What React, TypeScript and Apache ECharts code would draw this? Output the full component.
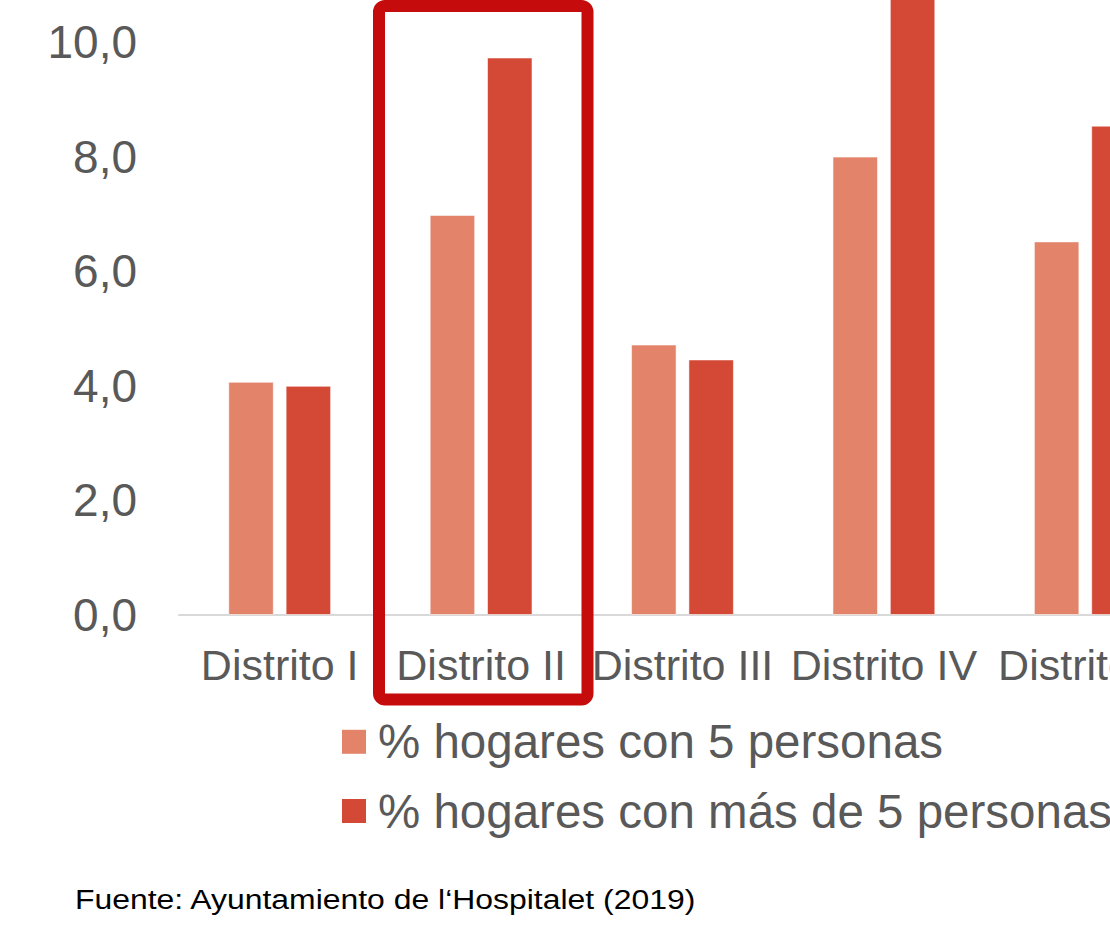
import React, { useEffect, useRef } from "react";
import * as echarts from "echarts";

const categories = ["Distrito I", "Distrito II", "Distrito III", "Distrito IV", "Distrito V"];
const seriesNames = ["% hogares con 5 personas", "% hogares con más de 5 personas"];
const hogares5 = [4.07, 6.98, 4.72, 8.0, 6.52];
const hogaresMas5 = [4.0, 9.73, 4.46, 11.3, 8.54];
const footer = "Fuente: Ayuntamiento de l\u2018Hospitalet (2019)";

const FONT = "'Liberation Sans', Arial, sans-serif";
const TEXT = "#595959";

export default function App() {
  const ref = useRef<HTMLDivElement>(null);
  useEffect(() => {
    if (!ref.current) return;
    const chart = echarts.init(ref.current, undefined, { renderer: "svg" });
    chart.setOption({
      animation: false,
      backgroundColor: "#ffffff",
      textStyle: { fontFamily: FONT },
      grid: { left: 179, right: 64, top: 27.4, bottom: 322, containLabel: false },
      xAxis: {
        type: "category",
        data: categories,
        axisLine: { lineStyle: { color: "#d9d9d9", width: 2 } },
        axisTick: { show: false },
        axisLabel: { color: TEXT, fontSize: 43, fontFamily: FONT, margin: 28, interval: 0 },
      },
      yAxis: {
        type: "value",
        min: 0,
        max: 12,
        interval: 2,
        splitLine: { show: false },
        axisLine: { show: false },
        axisTick: { show: false },
        axisLabel: {
          color: TEXT,
          fontSize: 46,
          fontFamily: FONT,
          margin: 42,
          formatter: (v: number) => v.toFixed(1).replace(".", ","),
        },
      },
      legend: {
        orient: "vertical",
        left: 342,
        top: 817.8,
        padding: 0,
        itemWidth: 24,
        itemHeight: 24,
        itemGap: 21.2,
        icon: "rect",
        itemStyle: { borderWidth: 0 },
        textStyle: { color: TEXT, fontSize: 47.5, fontFamily: FONT, lineHeight: 47.5, padding: [0, 0, 0, 7] },
        data: seriesNames,
      },
      series: [
        {
          name: seriesNames[0],
          type: "bar",
          data: hogares5,
          barWidth: 45.5,
          barGap: "26%",
          itemStyle: { color: "#E2836A", borderColor: "rgba(255,255,255,0.55)", borderWidth: 1 },
        },
        {
          name: seriesNames[1],
          type: "bar",
          data: hogaresMas5,
          barWidth: 45.5,
          barGap: "26%",
          itemStyle: { color: "#D34935", borderColor: "rgba(255,255,255,0.55)", borderWidth: 1 },
        },
      ],
      graphic: [
        {
          type: "rect",
          shape: { x: 379, y: 106, width: 208.5, height: 693.5, r: 6 },
          style: { fill: "none", stroke: "#C50B0B", lineWidth: 12 },
          z: 100,
        },
        {
          type: "text",
          x: 75,
          y: 999,
          scaleX: 1.14,
          style: {
            text: footer,
            fill: "#000000",
            fontSize: 28,
            fontFamily: FONT,
            verticalAlign: "middle",
            align: "left",
          },
        },
      ],
    });
    return () => chart.dispose();
  }, []);
  return (
    <div style={{ position: "fixed", left: 0, top: 0, width: 1110, height: 937, overflow: "hidden", background: "#fff" }}>
      <div ref={ref} style={{ position: "absolute", left: 0, top: -100, width: 1250, height: 1037 }} />
    </div>
  );
}
